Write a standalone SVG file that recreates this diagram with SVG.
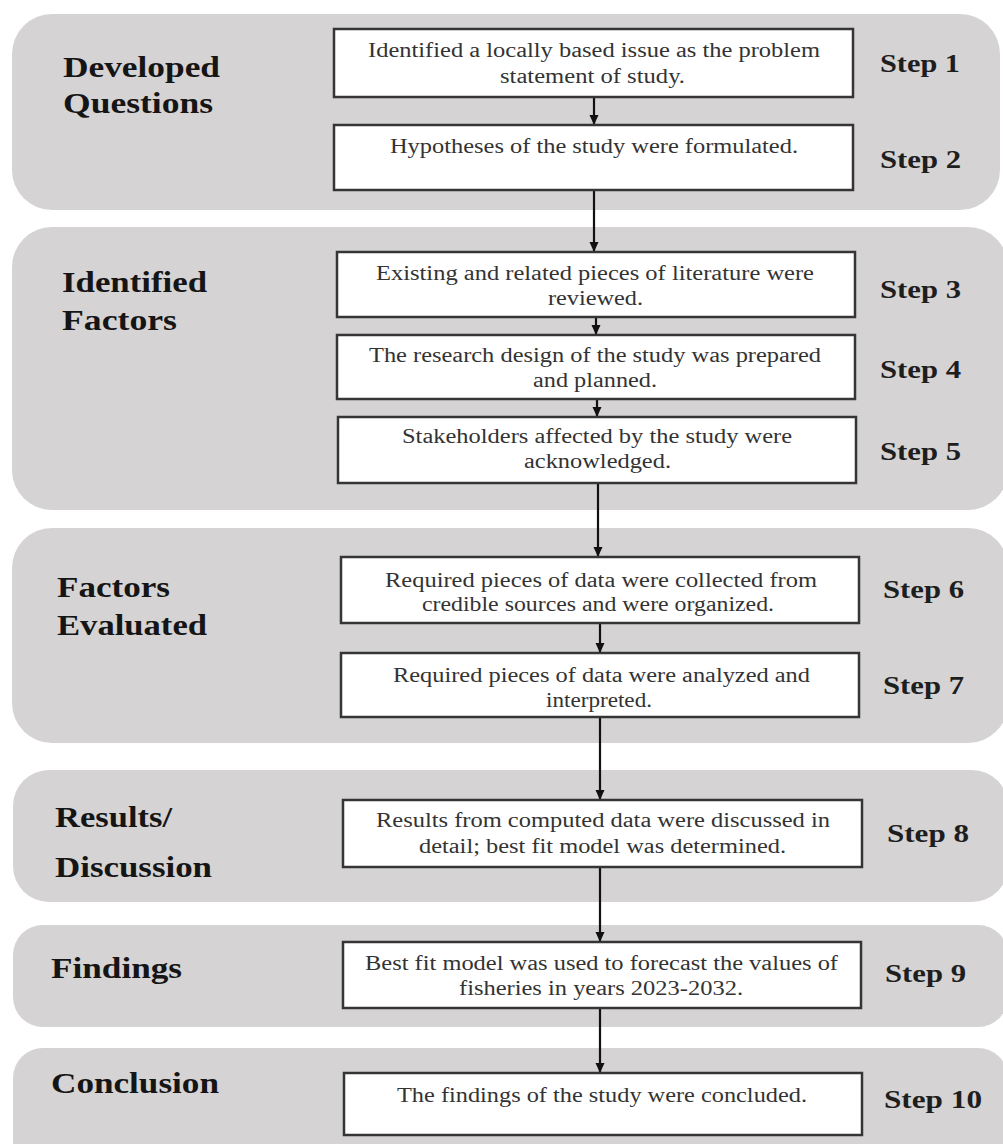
<svg xmlns="http://www.w3.org/2000/svg" width="1003" height="1144" viewBox="0 0 1003 1144">
<style>
.band{fill:#d5d3d4}
.box{fill:#ffffff;stroke:#353535;stroke-width:2.5}
.bt{font-family:"Liberation Serif","Times New Roman",serif;font-size:20px;fill:#333333}
.st{font-family:"Liberation Serif","Times New Roman",serif;font-size:26px;font-weight:bold;fill:#1e1e1e}
.lb{font-family:"Liberation Serif","Times New Roman",serif;font-size:30px;font-weight:bold;fill:#151515}
.con{stroke:#111111;stroke-width:2.2;fill:none;marker-end:url(#ah)}
</style>
<defs>
<marker id="ah" markerWidth="10" markerHeight="10" refX="9" refY="5" orient="auto" markerUnits="userSpaceOnUse">
<path d="M0,0.5 L10,5 L0,9.5 Z" fill="#111111"/>
</marker>
</defs>
<rect width="1003" height="1144" fill="#ffffff"/>
<g id="bands">
<rect class="band" x="12" y="14" width="988" height="196" rx="40"/>
<rect class="band" x="12" y="227" width="996" height="283" rx="40"/>
<rect class="band" x="12" y="528" width="996" height="215" rx="40"/>
<rect class="band" x="13" y="770" width="995" height="132" rx="36"/>
<rect class="band" x="13" y="925" width="995" height="102" rx="30"/>
<rect class="band" x="13" y="1048" width="995" height="130" rx="30"/>
</g>
<g id="phase-labels">
<text class="lb" x="63" y="77" textLength="157" lengthAdjust="spacingAndGlyphs">Developed</text>
<text class="lb" x="63" y="113" textLength="150" lengthAdjust="spacingAndGlyphs">Questions</text>
<text class="lb" x="62" y="292" textLength="145" lengthAdjust="spacingAndGlyphs">Identified</text>
<text class="lb" x="62" y="330" textLength="115" lengthAdjust="spacingAndGlyphs">Factors</text>
<text class="lb" x="57" y="597" textLength="113" lengthAdjust="spacingAndGlyphs">Factors</text>
<text class="lb" x="57" y="635" textLength="150" lengthAdjust="spacingAndGlyphs">Evaluated</text>
<text class="lb" x="55" y="827" textLength="117" lengthAdjust="spacingAndGlyphs">Results/</text>
<text class="lb" x="55" y="877" textLength="157" lengthAdjust="spacingAndGlyphs">Discussion</text>
<text class="lb" x="51" y="978" textLength="131" lengthAdjust="spacingAndGlyphs">Findings</text>
<text class="lb" x="51" y="1093" textLength="168" lengthAdjust="spacingAndGlyphs">Conclusion</text>
</g>
<g id="connectors">
<line class="con" x1="594" y1="97" x2="594" y2="124"/>
<line class="con" x1="594" y1="190" x2="594" y2="251"/>
<line class="con" x1="596" y1="317" x2="596" y2="334"/>
<line class="con" x1="597" y1="399" x2="597" y2="416"/>
<line class="con" x1="598" y1="483" x2="598" y2="556"/>
<line class="con" x1="600" y1="623" x2="600" y2="652"/>
<line class="con" x1="600" y1="717" x2="600" y2="799"/>
<line class="con" x1="600" y1="867" x2="600" y2="941"/>
<line class="con" x1="600" y1="1008" x2="600" y2="1072"/>
</g>
<g id="step1">
<rect class="box" x="334" y="29" width="519" height="68"/>
<text class="bt" x="368" y="57" textLength="452" lengthAdjust="spacingAndGlyphs">Identified a locally based issue as the problem</text>
<text class="bt" x="500" y="83" textLength="185" lengthAdjust="spacingAndGlyphs">statement of study.</text>
<text class="st" x="880" y="72" textLength="80" lengthAdjust="spacingAndGlyphs">Step 1</text>
</g>
<g id="step2">
<rect class="box" x="334" y="125" width="519" height="65"/>
<text class="bt" x="390" y="153" textLength="408" lengthAdjust="spacingAndGlyphs">Hypotheses of the study were formulated.</text>
<text class="st" x="880" y="168" textLength="81" lengthAdjust="spacingAndGlyphs">Step 2</text>
</g>
<g id="step3">
<rect class="box" x="337" y="252" width="518" height="65"/>
<text class="bt" x="376" y="280" textLength="438" lengthAdjust="spacingAndGlyphs">Existing and related pieces of literature were</text>
<text class="bt" x="548" y="305" textLength="95" lengthAdjust="spacingAndGlyphs">reviewed.</text>
<text class="st" x="880" y="298" textLength="81" lengthAdjust="spacingAndGlyphs">Step 3</text>
</g>
<g id="step4">
<rect class="box" x="337" y="335" width="518" height="64"/>
<text class="bt" x="369" y="362" textLength="452" lengthAdjust="spacingAndGlyphs">The research design of the study was prepared</text>
<text class="bt" x="533" y="387" textLength="124" lengthAdjust="spacingAndGlyphs">and planned.</text>
<text class="st" x="880" y="378" textLength="81" lengthAdjust="spacingAndGlyphs">Step 4</text>
</g>
<g id="step5">
<rect class="box" x="338" y="417" width="518" height="66"/>
<text class="bt" x="402" y="443" textLength="390" lengthAdjust="spacingAndGlyphs">Stakeholders affected by the study were</text>
<text class="bt" x="524" y="468" textLength="147" lengthAdjust="spacingAndGlyphs">acknowledged.</text>
<text class="st" x="880" y="460" textLength="81" lengthAdjust="spacingAndGlyphs">Step 5</text>
</g>
<g id="step6">
<rect class="box" x="341" y="557" width="518" height="66"/>
<text class="bt" x="385" y="587" textLength="432" lengthAdjust="spacingAndGlyphs">Required pieces of data were collected from</text>
<text class="bt" x="422" y="611" textLength="352" lengthAdjust="spacingAndGlyphs">credible sources and were organized.</text>
<text class="st" x="883" y="598" textLength="81" lengthAdjust="spacingAndGlyphs">Step 6</text>
</g>
<g id="step7">
<rect class="box" x="341" y="653" width="518" height="64"/>
<text class="bt" x="393" y="682" textLength="417" lengthAdjust="spacingAndGlyphs">Required pieces of data were analyzed and</text>
<text class="bt" x="546" y="707" textLength="106" lengthAdjust="spacingAndGlyphs">interpreted.</text>
<text class="st" x="883" y="694" textLength="81" lengthAdjust="spacingAndGlyphs">Step 7</text>
</g>
<g id="step8">
<rect class="box" x="343" y="800" width="519" height="67"/>
<text class="bt" x="376" y="827" textLength="454" lengthAdjust="spacingAndGlyphs">Results from computed data were discussed in</text>
<text class="bt" x="419" y="853" textLength="367" lengthAdjust="spacingAndGlyphs">detail; best fit model was determined.</text>
<text class="st" x="887" y="842" textLength="82" lengthAdjust="spacingAndGlyphs">Step 8</text>
</g>
<g id="step9">
<rect class="box" x="343" y="942" width="518" height="66"/>
<text class="bt" x="365" y="970" textLength="473" lengthAdjust="spacingAndGlyphs">Best fit model was used to forecast the values of</text>
<text class="bt" x="459" y="995" textLength="284" lengthAdjust="spacingAndGlyphs">fisheries in years 2023-2032.</text>
<text class="st" x="885" y="982" textLength="81" lengthAdjust="spacingAndGlyphs">Step 9</text>
</g>
<g id="step10">
<rect class="box" x="344" y="1073" width="518" height="62"/>
<text class="bt" x="397" y="1102" textLength="410" lengthAdjust="spacingAndGlyphs">The findings of the study were concluded.</text>
<text class="st" x="884" y="1108" textLength="98" lengthAdjust="spacingAndGlyphs">Step 10</text>
</g>
</svg>
